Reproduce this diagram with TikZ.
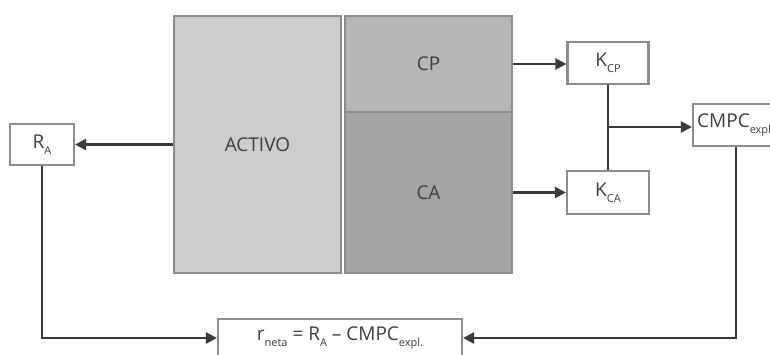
\documentclass[tikz,border=0pt]{standalone}
\usepackage{fontspec}
\setmainfont{Open Sans}
\usetikzlibrary{arrows.meta}
\definecolor{txt}{HTML}{3E3E40}
\definecolor{bord}{HTML}{8C8C8C}
\definecolor{lnk}{HTML}{3A3A3A}
\definecolor{fa}{HTML}{CDCDD0}
\definecolor{fcp}{HTML}{B5B6B8}
\definecolor{fca}{HTML}{A4A5A7}
\newcommand\lowsub[1]{\raisebox{-0.55ex}{\fontsize{11}{11}\selectfont #1}}
\tikzset{
  box/.style={draw=bord, line width=2.2pt, text=txt, inner sep=0pt, font=\fontsize{19}{19}\selectfont},
  link/.style={draw=lnk, line width=2.4pt, -{Triangle[length=11pt,width=11pt]}},
  plain/.style={draw=lnk, line width=2.4pt}
}
\begin{document}
\begin{tikzpicture}[x=1pt,y=-1pt]
\useasboundingbox (0,0) rectangle (770,354);
\clip (0,0) rectangle (770,354);
\node[box, fill=fa, minimum width=167pt, minimum height=257pt] (activo) at (257.5,144.5) {ACTIVO};
\node[box, fill=fcp, minimum width=167pt, minimum height=96pt] (cp) at (428.5,64) {CP};
\node[box, fill=fca, minimum width=167pt, minimum height=161pt] (ca) at (428.5,192.5) {CA};
\node[box, fill=white, minimum width=64pt, minimum height=41pt] (ra) at (42,144.5) {R\lowsub{A}};
\node[box, fill=white, minimum width=81pt, minimum height=42pt] (kcp) at (608,63) {K\lowsub{CP}};
\node[box, fill=white, minimum width=82pt, minimum height=43pt] (kca) at (608,192.5) {K\lowsub{CA}};
\node[box, fill=white, minimum width=86pt, minimum height=42pt] (cmpc) at (736,125) {};
\node[text=txt, anchor=west, inner sep=0pt, font=\fontsize{19}{19}\selectfont] (cmpct) at (697,125) {CMPC\lowsub{expl.}};
\node[box, fill=white, minimum width=244pt, minimum height=38pt] (eq) at (340,338) {r\lowsub{neta} = R\lowsub{A} – CMPC\lowsub{expl.}};
\coordinate (j) at (608,127);
\draw[link] (activo.west) -- (ra.east);
\draw[link] (cp.east) -- (cp.east -| kcp.west);
\draw[link] (ca.east) -- (ca.east -| kca.west);
\draw[plain] (kcp.south) -- (kca.north);
\draw[link] (j) -- (j -| cmpc.west);
\draw[link] (ra.south) |- (eq.west);
\draw[link] (cmpc.south) |- (eq.east);
\end{tikzpicture}
\end{document}
